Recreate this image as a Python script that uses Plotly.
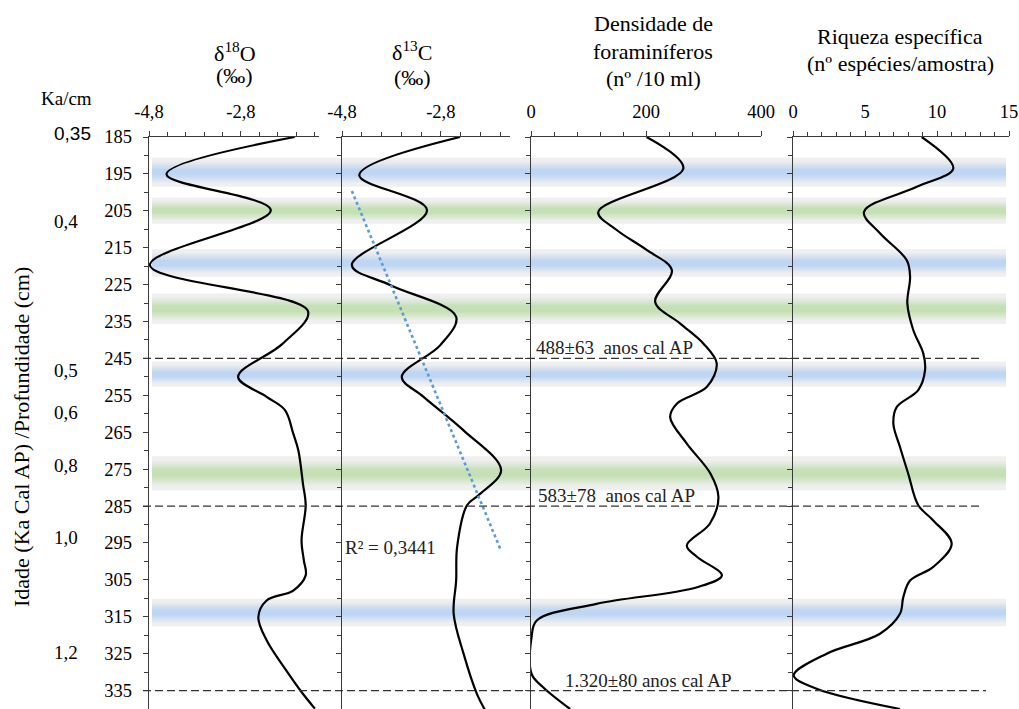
import plotly.graph_objects as go

W, H = 1019, 709

# ---------------- data ----------------
# depth (cm) / value pairs along each smoothed profile
o18_depth = [185, 195.1, 204.8, 219.7, 232.2, 241.0, 250.0, 255.4, 259.0, 265.4, 269.9,
             278.9, 284.8, 294.3, 299.7, 303.8, 307.9, 310.6, 315.1, 321.4, 329.6, 335.4, 339.9]
o18_value = [-1.63, -4.42, -2.15, -4.78, -1.34, -1.89, -2.86, -2.24, -1.84, -1.66, -1.55,
             -1.45, -1.39, -1.48, -1.43, -1.39, -1.66, -2.24, -2.42, -2.24, -1.81, -1.48, -1.19]

c13_depth = [185, 195.3, 204.8, 219.7, 225.1, 233.7, 241.4, 250.0, 255.4, 264.5, 275.3,
             282.1, 284.8, 296.1, 305.2, 314.2, 325.0, 335.9, 340.4]
c13_value = [-2.41, -4.45, -3.08, -4.60, -3.83, -2.49, -2.81, -3.59, -3.15, -2.34, -1.58,
             -2.04, -2.27, -2.47, -2.49, -2.54, -2.34, -2.07, -1.90]

# linear trend of d13C with depth (R² = 0,3441)
c13_trend_depth = [199.6, 296.5]
c13_trend_value = [-4.60, -1.60]
r2_label = "R² = 0,3441"

dens_depth = [185, 193.5, 205.3, 210.2, 215.6, 221.1, 229.7, 235.5, 241.0, 246.4, 252.7,
              257.2, 260.9, 268.1, 276.2, 282.6, 289.8, 295.7, 298.8, 303.8, 307.0, 311.5,
              316.0, 320.5, 330.5, 334.1, 340.0]
dens_value = [201, 265, 117, 149, 201, 245, 216, 259, 300, 323, 306,
              254, 242, 271, 312, 326, 311, 271, 289, 332, 289, 114,
              10, 1, 1, 21, 68]

riq_depth = [185, 193.5, 198.5, 205.3, 211.1, 218.4, 222.9, 230.1, 237.3, 243.7, 248.2,
             253.6, 258.2, 262.7, 269.0, 276.2, 284.8, 288.9, 295.2, 301.5, 305.2, 309.7,
             314.2, 319.6, 325.0, 330.9, 334.5, 340.0]
riq_value = [8.94, 11.13, 8.59, 4.93, 6.04, 7.90, 8.13, 7.94, 8.35, 9.05, 9.17,
             8.70, 7.20, 6.97, 7.43, 8.00, 8.70, 9.74, 11.02, 9.74, 8.13, 7.66,
             7.43, 6.04, 2.34, 0.05, 1.64, 7.43]

# shaded intervals (cm)
band_top = [190.6, 201.4, 215.4, 227.4, 245.9, 271.5, 310.1]
band_bottom = [198.5, 208.5, 222.9, 235.7, 252.7, 280.7, 317.6]
band_kind = ["azul", "verde", "azul", "verde", "azul", "verde", "azul"]

# radiocarbon-dated horizons
date_depth = [245, 285, 335]
date_label = ["488±63\u00a0 anos cal AP", "583±78\u00a0 anos cal AP", "1.320±80 anos cal AP"]
date_label_x = [5, 8, 55]

# age scale (Ka) written beside the depth axis
age_text = ["0,35", "0,4", "0,5", "0,6", "0,8", "1,0", "1,2"]
age_depth = [185.0, 208.0, 248.2, 259.6, 274.0, 293.5, 324.7]

depth_ticks = list(range(185, 336, 10))

# ---------------- styling ----------------
SERIF = "'Liberation Serif', 'Times New Roman', 'DejaVu Serif', serif"
SANS = "'Liberation Sans', Arial, sans-serif"
AXC = "#3a3a3a"
GRAY = (239, 239, 239)
CORE = {"azul": (190, 214, 243), "verde": (197, 224, 180)}
TICK_SIZE = 18.5
HEAD_SIZE = 22
NOTE_SIZE = 19

ytop = 1 - 137 / H
px = lambda v: v / W
py = lambda v: 1 - v / H

panels = [
    # x domain (px), range, major ticks, tick text, minor step
    dict(dom=(149, 319), rng=[-4.8, -1.1], maj=[-4.8, -2.8], txt=["-4,8", "-2,8"], minor=0.4, m0=-4.8),
    dict(dom=(342, 510), rng=[-4.8, -1.4], maj=[-4.8, -2.8], txt=["-4,8", "-2,8"], minor=0.4, m0=-4.8),
    dict(dom=(531, 761), rng=[0, 400], maj=[0, 200, 400], txt=["0", "200", "400"], minor=40, m0=0),
    dict(dom=(793, 1009), rng=[0, 15], maj=[0, 5, 10, 15], txt=["0", "5", "10", "15"], minor=1, m0=0),
]

fig = go.Figure()

series = [(o18_value, o18_depth), (c13_value, c13_depth), (dens_value, dens_depth), (riq_value, riq_depth)]
for i, (xv, yv) in enumerate(series):
    sfx = "" if i == 0 else str(i + 1)
    fig.add_trace(go.Scatter(x=xv, y=yv, mode="lines", xaxis="x" + sfx, yaxis="y" + sfx,
                             line=dict(color="black", width=2.2, shape="spline", smoothing=1.0),
                             hoverinfo="skip", showlegend=False))

fig.add_trace(go.Scatter(x=c13_trend_value, y=c13_trend_depth, mode="lines", xaxis="x2", yaxis="y2",
                         line=dict(color="#5B9BD5", width=2.6, dash="dot"),
                         hoverinfo="skip", showlegend=False))

layout = dict(width=W, height=H, margin=dict(l=0, r=0, t=0, b=0, pad=0, autoexpand=False),
              paper_bgcolor="white", plot_bgcolor="rgba(0,0,0,0)",
              font=dict(family=SERIF, size=16, color="black"), showlegend=False)

common = dict(showgrid=False, zeroline=False, fixedrange=True, automargin=False)

for i, p in enumerate(panels):
    n = i + 1
    sfx = "" if i == 0 else str(n)
    ov = str(n + 4)
    xa = dict(domain=[px(p["dom"][0]), px(p["dom"][1])], range=p["rng"], side="top",
              anchor="y" + sfx, showline=True, linecolor=AXC, linewidth=1.4,
              ticks="outside", tickmode="array", tickvals=p["maj"], ticktext=p["txt"],
              ticklen=5, tickwidth=1.4, tickcolor=AXC, ticklabelstandoff=5,
              minor=dict(tick0=p["m0"], dtick=p["minor"], ticks="outside", ticklen=4,
                         tickwidth=1.2, tickcolor=AXC, showgrid=False),
              tickfont=dict(family=SERIF, size=TICK_SIZE, color="black"), **common)
    ya = dict(domain=[0, ytop], range=[340, 185], anchor="x" + sfx, showline=True,
              linecolor=AXC, linewidth=1.4, ticks="outside", tickmode="array",
              tickvals=depth_ticks, ticklen=5, tickwidth=1.4, tickcolor=AXC,
              ticklabelstandoff=7,
              minor=dict(tick0=185, dtick=5, ticks="outside", ticklen=4, tickwidth=1.2,
                         tickcolor=AXC, showgrid=False),
              showticklabels=(i == 0),
              tickfont=dict(family=SERIF, size=TICK_SIZE, color="black"), **common)
    layout["xaxis" + sfx] = xa
    layout["yaxis" + sfx] = ya
    # inward half of the major ticks so they cross the axis line
    layout["xaxis" + ov] = dict(overlaying="x" + sfx, anchor="y" + sfx, side="top", range=p["rng"],
                                 tickmode="array", tickvals=p["maj"], ticks="inside", ticklen=5,
                                 tickwidth=1.4, tickcolor=AXC, showticklabels=False, showline=False,
                                 **common)
    layout["yaxis" + ov] = dict(overlaying="y" + sfx, anchor="x" + sfx, side="left", range=[340, 185],
                                 tickmode="array", tickvals=depth_ticks, ticks="inside", ticklen=5,
                                 tickwidth=1.4, tickcolor=AXC, showticklabels=False, showline=False,
                                 **common)

fig.update_layout(**layout)

# graded shading: grey rim fading into a coloured core
shapes = []
band_x0, band_x1 = px(152), px(1006)
steps = 10
for lo, hi, kind in zip(band_top, band_bottom, band_kind):
    h = hi - lo
    shapes.append(dict(type="rect", xref="paper", yref="y", x0=band_x0, x1=band_x1, y0=lo, y1=hi,
                       fillcolor="rgb(%d,%d,%d)" % GRAY, line=dict(width=0), layer="below"))
    core = CORE[kind]
    for k in range(1, steps + 1):
        s = 0.10 + 0.30 * k / steps
        t = k / steps
        col = tuple(round(GRAY[j] + (core[j] - GRAY[j]) * t) for j in range(3))
        shapes.append(dict(type="rect", xref="paper", yref="y", x0=band_x0, x1=band_x1,
                           y0=lo + s * h, y1=hi - s * h,
                           fillcolor="rgb(%d,%d,%d)" % col, line=dict(width=0), layer="below"))

date_ends = [983, 983, 986]
for d, xe in zip(date_depth, date_ends):
    shapes.append(dict(type="line", xref="paper", yref="y", x0=px(143), x1=px(xe), y0=d, y1=d,
                       line=dict(color="#333333", width=1.2, dash="8px,4px"), layer="above"))
fig.update_layout(shapes=shapes)

ann = []
for d, t, xv in zip(date_depth, date_label, date_label_x):
    ann.append(dict(x=xv, y=d, xref="x3", yref="y3", text=t, showarrow=False,
                    xanchor="left", yanchor="bottom", yshift=-2,
                    font=dict(family=SERIF, size=NOTE_SIZE, color="#222222")))
ann.append(dict(x=-4.78, y=296.2, xref="x2", yref="y2", text=r2_label, showarrow=False,
                xanchor="left", yanchor="middle", font=dict(family=SERIF, size=NOTE_SIZE, color="#222222")))

headers = [
    ("δ<sup>18</sup>O", 235, 52), ("(‰)", 234, 75),
    ("δ<sup>13</sup>C", 412, 51), ("(‰)", 412, 77),
    ("Densidade de", 653, 24), ("foraminíferos", 653, 51), ("(nº /10 ml)", 653, 78),
    ("Riqueza específica", 900, 36), ("(nº espécies/amostra)", 900, 64),
]
for t, hx, hy in headers:
    ann.append(dict(x=px(hx), y=py(hy), xref="paper", yref="paper", text=t, showarrow=False,
                    xanchor="center", yanchor="middle", font=dict(family=SERIF, size=HEAD_SIZE, color="black")))
ann.append(dict(x=px(66), y=py(98), xref="paper", yref="paper", text="Ka/cm", showarrow=False,
                xanchor="center", yanchor="middle", font=dict(family=SERIF, size=NOTE_SIZE, color="black")))

age_shift = [4, 0, 0, 0, 0, 0, 0]
for t, d, sh in zip(age_text, age_depth, age_shift):
    fam = SANS if t == "0,35" else SERIF
    ann.append(dict(x=px(52), y=d, xref="paper", yref="y", text=t, showarrow=False, yshift=sh,
                    xanchor="left", yanchor="middle", font=dict(family=fam, size=NOTE_SIZE, color="black")))

ann.append(dict(x=px(21), y=py(437), xref="paper", yref="paper", textangle=-90,
                text="Idade (Ka Cal AP) /Profundidade (cm)", showarrow=False,
                xanchor="center", yanchor="middle", font=dict(family=SERIF, size=HEAD_SIZE, color="black")))
fig.update_layout(annotations=ann)

# the page body keeps no default margin so the figure sits at the window origin
fig.write_html("out.html", post_script="document.body.style.margin='0';")
